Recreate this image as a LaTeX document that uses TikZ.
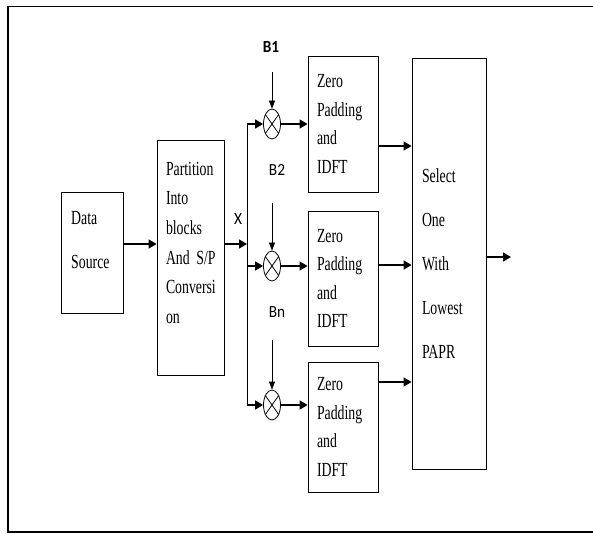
\documentclass[tikz,border=0pt]{standalone}
\usepackage{fontspec}
\setmainfont{Liberation Serif}[FakeStretch=0.69]
\newfontfamily\labelfont{Carlito}[FakeStretch=0.9]
\usetikzlibrary{shapes.geometric,arrows.meta}

\begin{document}
\begin{tikzpicture}[x=1pt,y=-1pt,
    block/.style={draw, line width=0.8pt, align=left, inner xsep=9pt,
        font=\fontsize{20}{28.5}\selectfont},
    mixer/.style={draw, ellipse, line width=0.8pt, minimum width=17pt,
        minimum height=30pt, inner sep=0pt},
    arr/.style={line width=1.6pt, -{Triangle[length=8pt,width=9pt]}},
    tap/.style={line width=0.8pt, -{Triangle[length=8pt,width=6pt]}},
    lbl/.style={font=\labelfont\fontsize{17}{20}\selectfont}]
    \useasboundingbox (0,0) rectangle (593,534);

    % Frame
    \draw[line width=1.5pt] (593,6.5) -- (8,6.5) -- (8,532) -- (593,532);

    % Data source
    \node[draw, line width=0.8pt, minimum width=62pt, minimum height=121pt] (src) at (92,252.5) {};
    \node[anchor=west, inner sep=0pt, align=left, font=\fontsize{20}{44}\selectfont] (srctxt) at (71,240) {Data\\Source};

    % Partition and S/P
    \node[block, text width=49pt, minimum height=235pt, font=\fontsize{20}{29.7}\selectfont] (part) at (190.5,257.5)
        {Partition\\Into\\blocks\\And~S/P\\Conversi\\on\\\mbox{}};

    % Bus and X
    \coordinate (xbus) at (247,244);
    \node[lbl] (xlbl) at (238,219) {X};

    % Mixers
    \node[mixer] (m1) at (272,124) {};
    \node[mixer] (m2) at (272,266) {};
    \node[mixer] (m3) at (272,405) {};
    \foreach \m in {m1,m2,m3} {
        \draw[line width=0.8pt] (\m.55) -- (\m.235);
        \draw[line width=0.8pt] (\m.125) -- (\m.305);
    }

    % Phase inputs
    \node[lbl, font=\labelfont\bfseries\fontsize{17}{20}\selectfont] (b1) at (271,47) {B1};
    \node[lbl] (b2) at (277,170) {B2};
    \node[lbl] (bn) at (277,312) {Bn};
    \coordinate (t1) at (272,72);
    \coordinate (t2) at (272,203);
    \coordinate (t3) at (272,340);

    % Zero padding and IDFT
    \node[block, text width=52pt, minimum height=136pt] (zp1) at (343,124) {Zero\\Padding\\and\\IDFT};
    \node[block, text width=52pt, minimum height=135pt] (zp2) at (343,278.5) {Zero\\Padding\\and\\IDFT};
    \node[block, text width=52pt, minimum height=130pt] (zp3) at (343,427) {Zero\\Padding\\and\\IDFT};

    % Selection
    \node[block, text width=54pt, inner xsep=10pt, minimum height=411pt, font=\fontsize{20}{44}\selectfont] (sel) at (449,263.5)
        {Select\\One\\With\\Lowest\\PAPR};
    \coordinate (out) at (511,257);

    % Connections
    \draw[arr] ([yshift=8.5pt]src.east) -- ([yshift=8.5pt]src.east -| part.west);
    \draw[arr] ([yshift=13.5pt]part.east) -- (xbus);
    \draw[line width=0.8pt] (m1.west -| xbus) -- (m3.west -| xbus);
    \foreach \m/\t/\z in {m1/t1/zp1, m2/t2/zp2, m3/t3/zp3} {
        \draw[arr] (\m.west -| xbus) -- (\m.west);
        \draw[tap] (\t) -- (\m.north);
        \draw[arr] (\m.east) -- (\m.east -| \z.west);
    }
    \draw[arr] ([yshift=-22pt]zp1.east) -- ([yshift=-22pt]zp1.east -| sel.west);
    \draw[arr] ([yshift=13.5pt]zp2.east) -- ([yshift=13.5pt]zp2.east -| sel.west);
    \draw[arr] ([yshift=45pt]zp3.east) -- ([yshift=45pt]zp3.east -| sel.west);
    \draw[arr] ([yshift=6.5pt]sel.east) -- (out);
\end{tikzpicture}
\end{document}
